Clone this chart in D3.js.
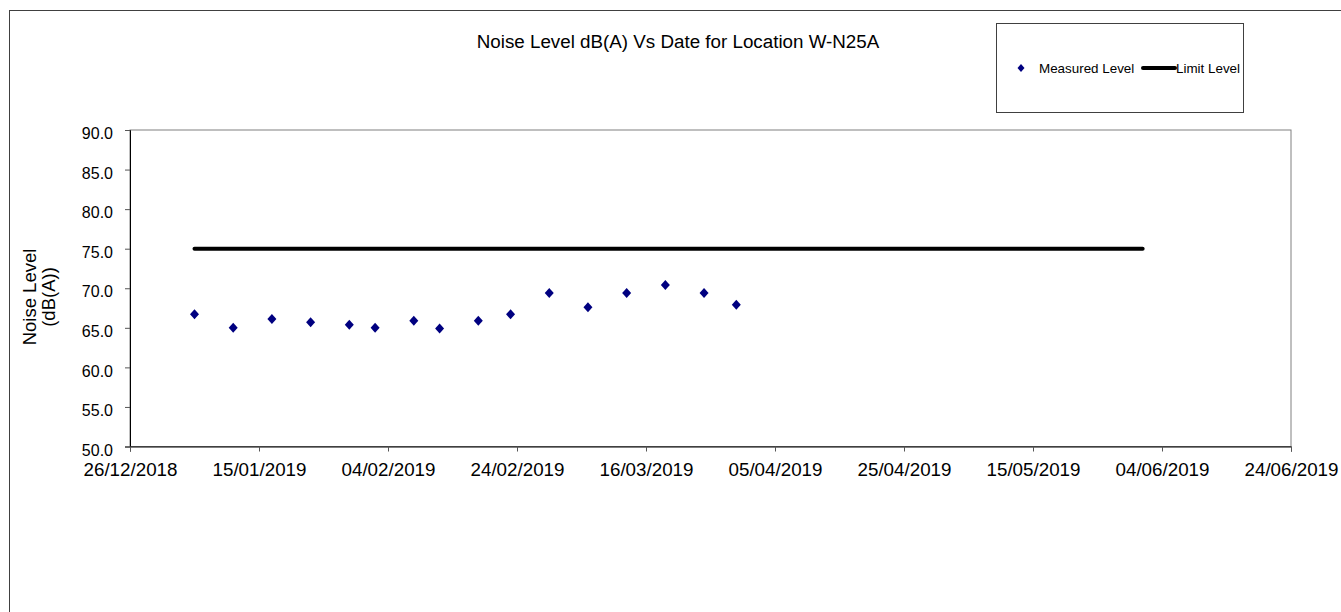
<!DOCTYPE html>
<html>
<head>
<meta charset="utf-8">
<script src="https://cdn.jsdelivr.net/npm/d3@7"></script>
<style>
  body { margin: 0; background: #fff; }
  svg { font-family: "Liberation Sans", Arial, sans-serif; }
</style>
</head>
<body>
<script>
var width = 1341,
    height = 612;

// Measured noise levels
var dates = ["05/01/2019", "11/01/2019", "17/01/2019", "23/01/2019", "29/01/2019", "02/02/2019",
             "08/02/2019", "12/02/2019", "18/02/2019", "23/02/2019", "01/03/2019", "07/03/2019",
             "13/03/2019", "19/03/2019", "25/03/2019", "30/03/2019"];
var levels = [66.7, 65.0, 66.1, 65.7, 65.4, 65.0, 65.9, 64.9, 65.9, 66.7, 69.4, 67.6, 69.4, 70.4, 69.4, 67.9];

// Limit line
var limitDates = ["05/01/2019", "01/06/2019"];
var limitLevels = [75, 75];

var xTicks = ["26/12/2018", "15/01/2019", "04/02/2019", "24/02/2019", "16/03/2019",
              "05/04/2019", "25/04/2019", "15/05/2019", "04/06/2019", "24/06/2019"];
var yTicks = [50, 55, 60, 65, 70, 75, 80, 85, 90];

var parse = d3.timeParse("%d/%m/%Y"),
    fmt = d3.timeFormat("%d/%m/%Y");

var margin = {left: 130, right: 50, top: 130, bottom: 165.5};

var svg = d3.select("body").append("svg")
            .attr("width", width)
            .attr("height", height);

// outer chart frame (runs off the page at right/bottom)
svg.append("rect")
   .attr("x", 9.5).attr("y", 10.5)
   .attr("width", 1400).attr("height", 700)
   .attr("fill", "none")
   .attr("stroke", "#404040")
   .attr("stroke-width", 1);

var x = d3.scaleUtc()
          .domain([parse(xTicks[0]), parse(xTicks[xTicks.length - 1])])
          .range([margin.left, width - margin.right]);

var y = d3.scaleLinear()
          .domain([50, 90])
          .range([height - margin.bottom, margin.top]);

// plot area border
svg.append("rect")
   .attr("x", x.range()[0]).attr("y", y(90))
   .attr("width", x.range()[1] - x.range()[0])
   .attr("height", y(50) - y(90))
   .attr("fill", "none")
   .attr("stroke", "#808080")
   .attr("stroke-width", 1);

var yAxis = svg.append("g")
   .attr("transform", "translate(" + x.range()[0] + ",0)")
   .call(d3.axisLeft(y).tickValues(yTicks).tickSize(5).tickPadding(12)
           .tickFormat(d3.format(".1f")));

var xAxis = svg.append("g")
   .attr("transform", "translate(0," + y(50) + ")")
   .call(d3.axisBottom(x).tickValues(xTicks.map(parse)).tickSize(5).tickPadding(11)
           .tickFormat(fmt));

[xAxis, yAxis].forEach(function(g) {
  g.select(".domain").attr("stroke", "#000");
  g.selectAll(".tick line").attr("stroke", "#555");
  g.selectAll("text").attr("fill", "#000").style("font-family", "'Liberation Sans', Arial, sans-serif");
});
yAxis.selectAll("text").style("font-size", "16px").attr("dy", "0.54em");
xAxis.selectAll("text").style("font-size", "18.8px");

// limit line
var line = d3.line()
             .x(function(d) { return x(parse(d[0])); })
             .y(function(d) { return y(d[1]); });

svg.append("path")
   .datum(d3.zip(limitDates, limitLevels))
   .attr("d", line)
   .attr("fill", "none")
   .attr("stroke", "#000")
   .attr("stroke-width", 4)
   .attr("stroke-linecap", "round");

// measured points
var diamond = "M0,-5L4.5,0L0,5L-4.5,0Z";

svg.selectAll(".pt")
   .data(d3.zip(dates, levels))
   .enter()
   .append("path")
   .attr("class", "pt")
   .attr("d", diamond)
   .attr("transform", function(d) { return "translate(" + x(parse(d[0])) + "," + y(d[1]) + ")"; })
   .attr("fill", "#000080");

// title
svg.append("text")
   .attr("x", 678).attr("y", 48)
   .attr("text-anchor", "middle")
   .style("font-size", "18.8px")
   .text("Noise Level dB(A) Vs Date for Location W-N25A");

// y axis title
var yt = svg.append("text")
   .attr("transform", "translate(36,297)rotate(-90)")
   .attr("text-anchor", "middle")
   .style("font-size", "18.5px");
yt.append("tspan").attr("x", 0).attr("dy", 0).text("Noise Level");
yt.append("tspan").attr("x", 0).attr("dy", 19).text("(dB(A))");

// legend
var lg = svg.append("g").attr("transform", "translate(996,23)");
lg.append("rect")
  .attr("x", 0.5).attr("y", 0.5)
  .attr("width", 247).attr("height", 89)
  .attr("fill", "#fff")
  .attr("stroke", "#404040");
lg.append("path")
  .attr("d", "M0,-4L3.5,0L0,4L-3.5,0Z")
  .attr("transform", "translate(25,45)")
  .attr("fill", "#000080");
lg.append("text")
  .attr("x", 43).attr("y", 50)
  .style("font-size", "13.4px")
  .text("Measured Level");
lg.append("line")
  .attr("x1", 147).attr("x2", 179)
  .attr("y1", 45).attr("y2", 45)
  .attr("stroke", "#000")
  .attr("stroke-width", 4)
  .attr("stroke-linecap", "round");
lg.append("text")
  .attr("x", 180).attr("y", 50)
  .style("font-size", "13.4px")
  .text("Limit Level");
</script>
</body>
</html>
